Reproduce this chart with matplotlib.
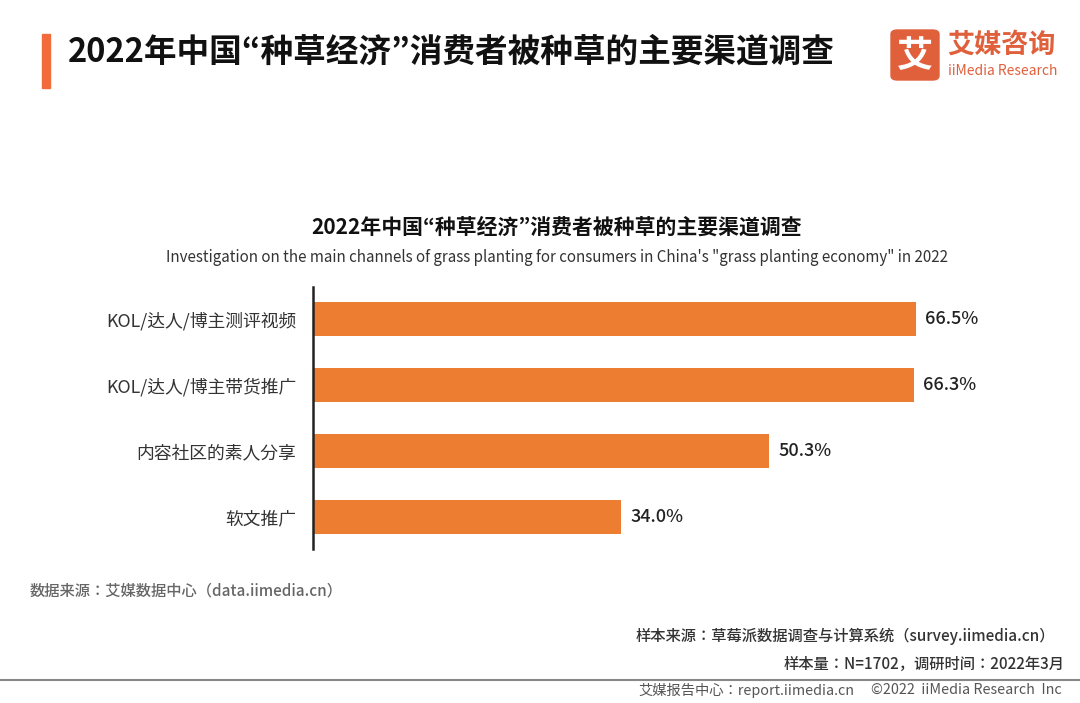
import matplotlib
matplotlib.use("Agg")
import matplotlib.pyplot as plt
from matplotlib.patches import Rectangle, FancyBboxPatch

plt.rcParams["font.family"] = ["Noto Sans CJK JP", "Noto Sans CJK SC", "DejaVu Sans"]

categories = ["KOL/达人/博主测评视频", "KOL/达人/博主带货推广", "内容社区的素人分享", "软文推广"]
values = [66.5, 66.3, 50.3, 34.0]
labels = ["66.5%", "66.3%", "50.3%", "34.0%"]

W, H = 1080, 703
fig = plt.figure(figsize=(W/100, H/100), dpi=100)
fig.patch.set_facecolor("white")

def fx(x): return x / W
def fy(y): return 1 - y / H

# header
fig.patches.append(Rectangle((fx(42), fy(88)), fx(8), 54/H, transform=fig.transFigure, color="#f26b3a"))
fig.text(fx(68), fy(52), "2022年中国“种草经济”消费者被种草的主要渠道调查", fontsize=23.5, fontweight="bold",
         va="center", ha="left", color="#111111")
# logo
fig.patches.append(FancyBboxPatch((fx(891), fy(80)), 48/W, 50/H, boxstyle="round,pad=0,rounding_size=0.006",
                                  transform=fig.transFigure, color="#e0603c"))
fig.text(fx(915), fy(57), "艾", fontsize=26, color="white", fontweight="bold", ha="center", va="center")
fig.text(fx(947), fy(45), "艾媒咨询", fontsize=19.5, color="#e0603c", fontweight="bold", ha="left", va="center")
fig.text(fx(948), fy(71), "iiMedia Research", fontsize=10, color="#e0603c", ha="left", va="center")

# chart titles
fig.text(fx(557), fy(227), "2022年中国“种草经济”消费者被种草的主要渠道调查", fontsize=15, fontweight="bold",
         ha="center", va="center", color="#111111")
fig.text(fx(557), fy(258), "Investigation on the main channels of grass planting for consumers in China's \"grass planting economy\" in 2022",
         fontsize=10.9, ha="center", va="center", color="#333333")

ax = fig.add_axes([fx(313), fy(549), 653/W, 262/H])
y = list(range(len(categories)))
ax.barh(y, values, height=0.52, color="#ed7d31")
ax.set_xlim(0, 72)
ax.set_ylim(3.485, -0.485)
ax.set_yticks(y)
ax.set_yticklabels(categories, fontsize=12.8, color="#333333")
ax.tick_params(axis="y", length=0, pad=12)
ax.set_xticks([])
for s in ["top", "right", "bottom"]:
    ax.spines[s].set_visible(False)
ax.spines["left"].set_linewidth(1.8)
ax.spines["left"].set_color("#222222")
for yi, v, l in zip(y, values, labels):
    ax.text(v + 1, yi, l, va="center", ha="left", fontsize=13, fontweight="medium", color="#222222")

# footer
fig.text(fx(30), fy(591), "数据来源：艾媒数据中心（data.iimedia.cn）", fontsize=11, fontweight="medium", color="#666666", ha="left", va="center")
fig.text(fx(1055), fy(636), "样本来源：草莓派数据调查与计算系统（survey.iimedia.cn）", fontsize=11, fontweight="medium", color="#333333", ha="right", va="center")
fig.text(fx(1065), fy(664), "样本量：N=1702，调研时间：2022年3月", fontsize=11, fontweight="medium", color="#333333", ha="right", va="center")
fig.add_artist(plt.Line2D([0, 1], [fy(680), fy(680)], transform=fig.transFigure, color="#888888", lw=1.5))
fig.text(fx(638), fy(690), "艾媒报告中心：report.iimedia.cn", fontsize=10.3, color="#555555", ha="left", va="center")
fig.text(fx(1062), fy(690), "©2022  iiMedia Research  Inc", fontsize=10.3, color="#555555", ha="right", va="center")

fig.savefig("out.png", dpi=100)
